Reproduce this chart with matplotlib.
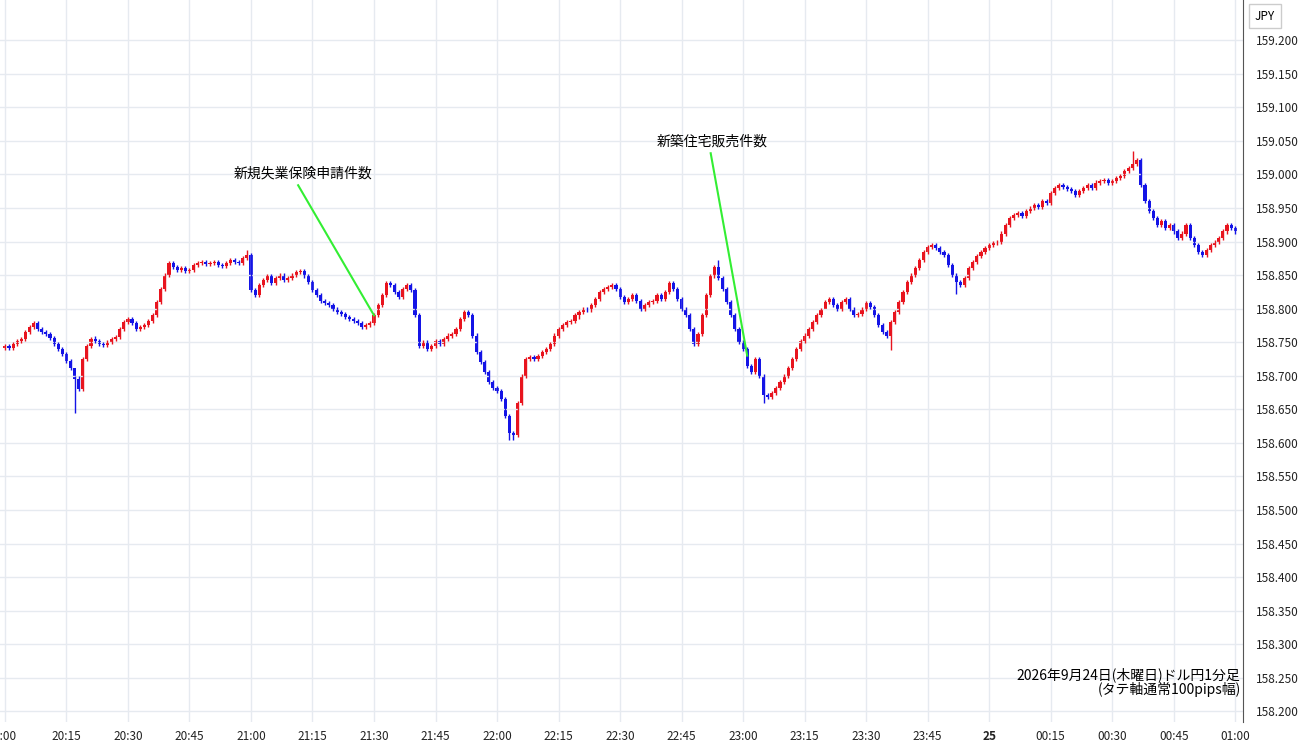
import matplotlib
matplotlib.use("Agg")
import matplotlib.pyplot as plt
import numpy as np

plt.rcParams['font.family'] = ['Noto Sans CJK JP', 'DejaVu Sans']

# closes in pips above 158.000, one per minute from 20:00
closes = [745,742,748,752,755,765,772,778,770,765,
 762,756,748,740,732,722,712,695,680,725,
 745,755,752,748,746,750,755,758,770,780,
 785,778,770,772,776,782,790,810,830,850,
 868,862,858,860,856,858,865,868,870,866,
 868,870,865,864,868,872,870,868,875,880,
 828,820,835,842,848,838,845,850,842,846,
 850,854,856,848,840,828,820,812,808,805,
 800,795,792,788,785,782,778,772,775,778,
 790,805,820,838,835,825,818,830,835,828,
 790,745,750,740,745,752,748,755,760,762,
 770,785,795,790,760,735,720,705,690,682,
 678,665,640,615,612,660,700,725,728,725,
 730,735,740,748,760,770,775,780,782,790,
 795,800,798,805,815,825,830,832,835,830,
 818,810,815,820,812,800,805,810,812,820,
 815,825,838,830,815,800,790,770,748,762,
 790,820,848,862,845,830,810,790,770,750,
 740,715,705,725,700,672,668,675,682,690,
 700,712,725,740,752,760,770,780,790,798,
 810,815,805,800,810,815,800,790,792,800,
 808,802,790,775,765,760,780,795,810,825,
 840,850,860,872,885,892,895,890,885,880,
 865,850,840,835,845,860,870,878,885,890,
 895,898,900,912,925,935,940,942,938,945,
 950,955,952,960,958,972,980,985,982,978,
 975,970,975,980,985,980,988,990,992,988,
 990,995,998,1005,1010,1015,1022,985,960,945,
 935,925,930,920,925,915,905,912,925,905,
 895,885,880,888,895,900,905,915,925,920,
 915]
first_open = 742
high_over = {17: 700, 18: 700, 22: 760, 59: 888, 275: 1035, 174: 872}
low_over = {17: 645, 123: 605, 124: 605, 185: 660, 140: 785, 232: 822, 200: 805, 216: 738}

tick_labels = ["0:00","20:15","20:30","20:45","21:00","21:15","21:30","21:45","22:00",
               "22:15","22:30","22:45","23:00","23:15","23:30","23:45","25","00:15",
               "00:30","00:45","01:00"]
ann1 = "新規失業保険申請件数"
ann2 = "新築住宅販売件数"

fig = plt.figure(figsize=(13, 7.45), dpi=100)
ax = fig.add_axes([0, 1-722/745, 1243/1300, 722/745])
n = len(closes)
opens = [first_open] + closes[:-1]
up_c, dn_c = '#e8141e', '#1414e6'
for i in range(n):
    o, c = opens[i]/1000+158, closes[i]/1000+158
    hi = high_over.get(i, max(opens[i], closes[i]) + 3)/1000 + 158
    lo = low_over.get(i, min(opens[i], closes[i]) - 3)/1000 + 158
    col = up_c if c >= o else dn_c
    ax.vlines(i, lo, hi, color=col, lw=1)
    h = abs(c-o) if abs(c-o) > 0.0010 else 0.0010
    ax.add_patch(plt.Rectangle((i-0.38, min(o, c)), 0.76, h, color=col, lw=0))

ax.set_xlim(-1.2, 301.9)
ax.set_ylim(158.184, 159.26)
ax.set_xticks(np.arange(0, 301, 15))
ax.set_xticklabels(tick_labels)
for lab in ax.get_xticklabels():
    if lab.get_text() == "25":
        lab.set_fontweight('bold')
yt = np.arange(158.2, 159.201, 0.05)
ax.set_yticks(yt)
ax.set_yticklabels([f"{v:.3f}" for v in yt])
ax.yaxis.tick_right()
ax.tick_params(axis='both', labelsize=8.5, length=0, colors='#222222')
ax.tick_params(axis='x', pad=6)
ax.tick_params(axis='y', pad=9)
ax.grid(True, color='#e6eaf0', lw=1)
for s in ['top', 'left', 'bottom']:
    ax.spines[s].set_visible(False)
ax.spines['right'].set_color('#555555')

def p(y):
    return 159.2 - (y-40)/671*1.0

ax.text(72.8, p(173), ann1, ha='center', va='center', fontsize=10)
ax.plot([71.5, 90], [p(185), closes[90]/1000+158], color='#33ee33', lw=1.5)
ax.text(172.4, p(141), ann2, ha='center', va='center', fontsize=10)
ax.plot([172.1, 181], [p(153), closes[181]/1000+158 + 0.015], color='#33ee33', lw=1.5)

ax.text(0.998, 0.035, "2026年9月24日(木曜日)ドル円1分足\n(タテ軸通常100pips幅)", transform=ax.transAxes,
        ha='right', va='bottom', fontsize=10, linespacing=0.95)
fig.text(1265/1300, 1-16/745, "JPY", ha='center', va='center', fontsize=8.5,
         bbox=dict(boxstyle='square,pad=0.5', fc='white', ec='#cccccc'))
fig.savefig("out.png", dpi=100)
